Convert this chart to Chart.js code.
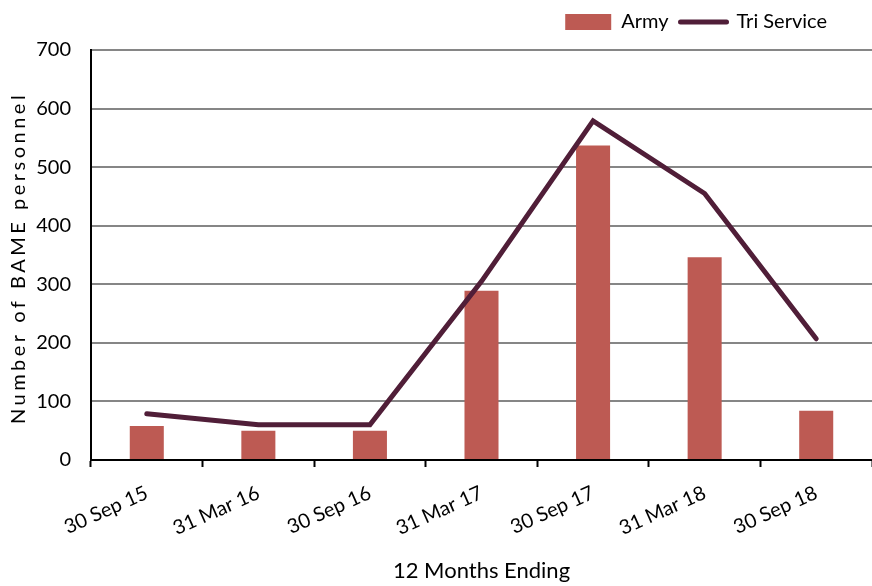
<!DOCTYPE html>
<html><head><meta charset="utf-8">
<script src="https://cdn.jsdelivr.net/npm/chart.js@4"></script>
<style>html,body{margin:0;padding:0;background:#fff}</style>
</head><body>
<canvas id="c" width="872" height="586"></canvas>
<script>
const categories = ['30 Sep 15','31 Mar 16','30 Sep 16','31 Mar 17','30 Sep 17','31 Mar 18','30 Sep 18'];
const armyValues = [58, 50, 50, 289, 537, 346, 84];
const triServiceValues = [79, 60, 60, 305, 579, 455, 207];
const seriesNames = ['Army', 'Tri Service'];
const yMin = 0, yMax = 700, yStep = 100;
const xTitle = '12 Months Ending';
const yTitle = 'Number of BAME personnel';

const FONT = 'Lato';
const yTitlePlugin = {
  id: 'yTitle',
  afterDraw(chart) {
    const ctx = chart.ctx, a = chart.chartArea;
    ctx.save();
    ctx.font = '20px ' + FONT;
    ctx.letterSpacing = '3.5px';
    ctx.fillStyle = '#000';
    ctx.translate(19, (a.top + a.bottom) / 2 + 3);
    ctx.rotate(-Math.PI / 2);
    ctx.textAlign = 'center';
    ctx.textBaseline = 'middle';
    ctx.fillText(yTitle, 0, 0);
    ctx.restore();
  }
};
const legendAdjust = {
  id: 'legendAdjust',
  beforeLayout(chart) {
    const lg = chart.legend;
    if (lg && !lg._patched) {
      const f = lg.fit.bind(lg);
      lg.fit = function () { f(); this.height += 8; };
      lg._patched = true;
    }
  },
  afterLayout(chart) { chart.legend.right -= 33; }
};

function draw() {
  new Chart(document.getElementById('c'), {
    data: {
      labels: categories,
      datasets: [
        { type: 'bar', label: seriesNames[0], data: armyValues, backgroundColor: '#BD5A53',
          borderWidth: 0, order: 1,
          categoryPercentage: 1, barPercentage: 0.305 },
        { type: 'line', label: seriesNames[1], data: triServiceValues, borderColor: '#501E38',
          backgroundColor: '#501E38', borderWidth: 5, pointRadius: 0, tension: 0,
          borderCapStyle: 'round', borderJoinStyle: 'miter', order: 0 }
      ]
    },
    options: {
      responsive: false, animation: false,
      layout: { padding: { top: 0, right: 0, bottom: 0, left: 0 } },
      plugins: {
        tooltip: { enabled: false },
        legend: {
          position: 'top', align: 'end',
          labels: {
            color: '#000', font: { family: FONT, size: 20 }, padding: 12,
            usePointStyle: true, boxWidth: 46, boxHeight: 16, pointStyleWidth: 46,
            generateLabels(chart) {
              return chart.data.datasets.map((ds, i) => ({
                text: ds.label, datasetIndex: i,
                fillStyle: ds.type === 'bar' ? ds.backgroundColor : ds.borderColor,
                strokeStyle: ds.type === 'bar' ? ds.backgroundColor : ds.borderColor,
                lineWidth: ds.type === 'bar' ? 0 : 5,
                lineCap: 'round',
                pointStyle: ds.type === 'bar' ? 'rect' : 'line',
                fontColor: '#000', hidden: false
              }));
            }
          }
        }
      },
      scales: {
        x: {
          offset: true,
          grid: { display: true, drawOnChartArea: false, drawTicks: true, tickLength: 7, tickWidth: 2, tickColor: '#000', offset: true },
          border: { color: '#000', width: 2 },
          ticks: { color: '#000', font: { family: FONT, size: 20 }, minRotation: 24, maxRotation: 24, padding: 14 },
          title: { display: true, text: xTitle, color: '#000', font: { family: FONT, size: 22 }, padding: { top: 0, bottom: 2 } },
          afterFit(s) { s.height = 126; }
        },
        y: {
          min: yMin, max: yMax,
          grid: { color: '#868686', lineWidth: 2, drawTicks: false },
          border: { color: '#000', width: 2 },
          ticks: { stepSize: yStep, color: '#000', font: { family: FONT, size: 20 }, padding: 20 },
          afterFit(s) { s.width = 91; }
        }
      }
    },
    plugins: [yTitlePlugin, legendAdjust]
  });
}
document.fonts.load('20px ' + FONT).then(draw, draw);
</script>
</body></html>
